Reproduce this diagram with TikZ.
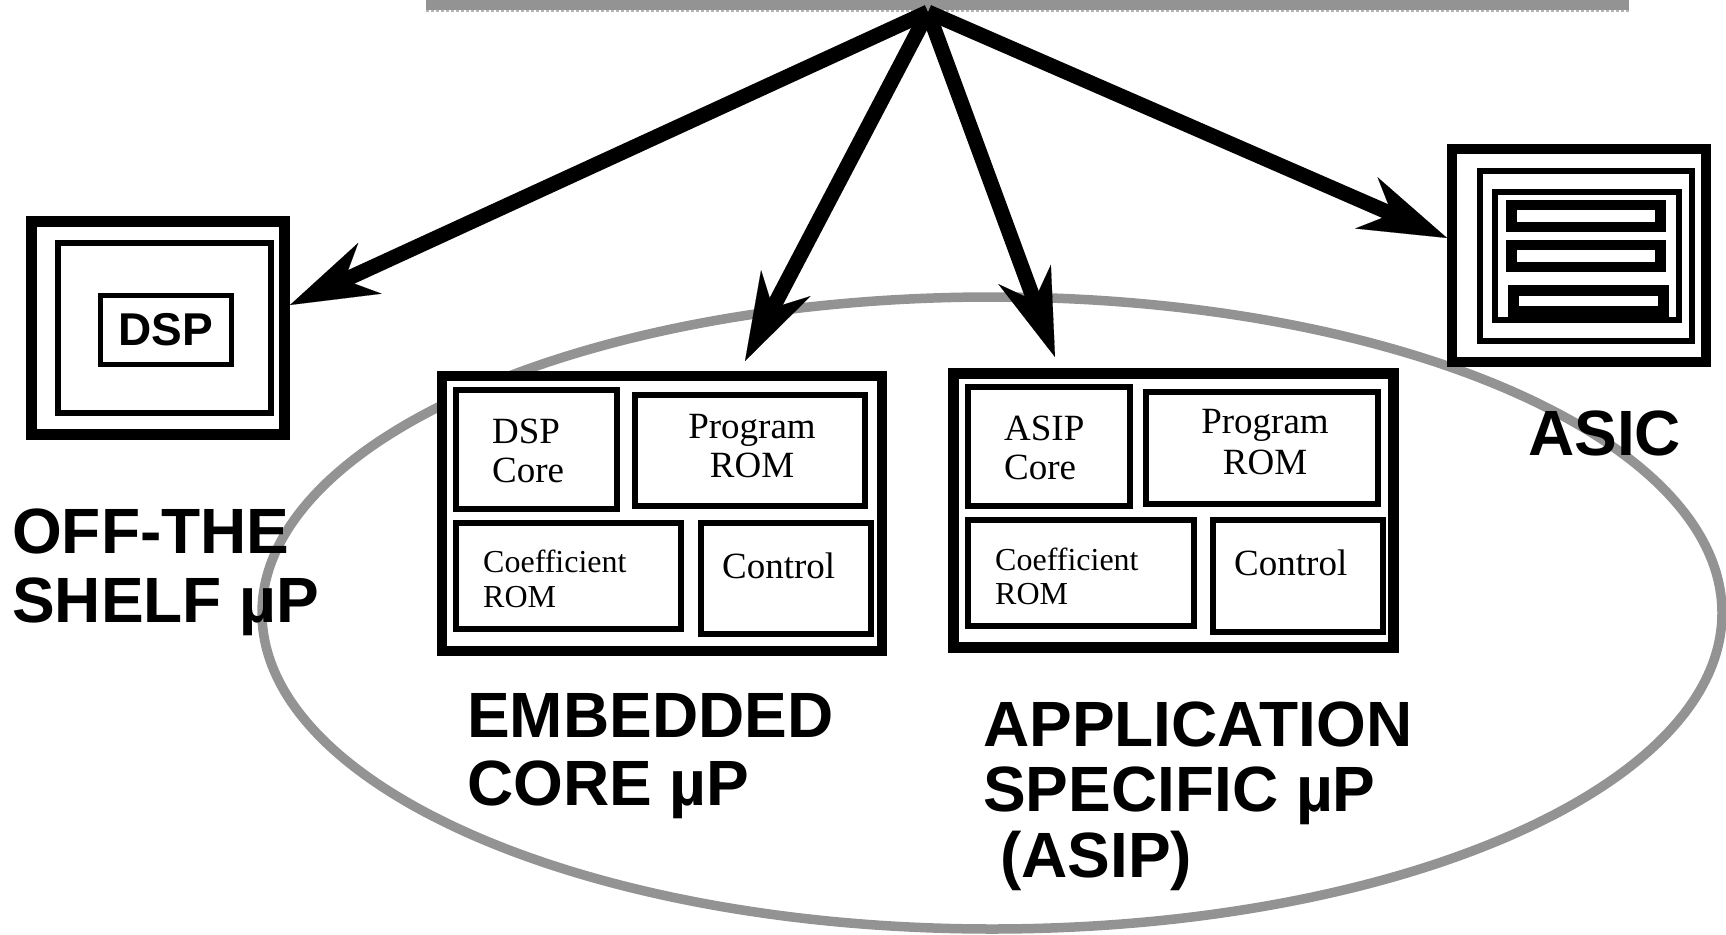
\documentclass[tikz,border=0pt]{standalone}
\usepackage{fontspec}
\setmainfont{Liberation Serif}[Ligatures=NoCommon]
\newfontfamily\labelsans{Liberation Sans}
\usetikzlibrary{arrows.meta}
\definecolor{ringgray}{RGB}{147,147,147}
\newcommand\bigfont{\labelsans\bfseries\fontsize{64}{69}\selectfont}
\newcommand\partfont{\fontsize{37}{39}\selectfont}
\newcommand\coeffont{\fontsize{32}{34}\selectfont}
\tikzset{
  frame/.style={draw, fill=white, inner sep=0pt, outer sep=0pt},
  heavy/.style={frame, line width=11pt},
  medium/.style={frame, line width=6pt},
  part/.style={frame, line width=5.5pt},
  bar/.style={frame, line width=10.5pt},
  biglabel/.style={anchor=base west, inner sep=0pt, font=\bigfont},
  parttext/.style={inner sep=0pt, font=\partfont},
  coeftext/.style={anchor=base west, inner sep=0pt, font=\coeffont},
  bigarrow/.style={line width=15pt,
    -{Stealth[length=88pt, width=56pt, inset=28pt, line width=0.1pt]}}
}
\begin{document}
\begin{tikzpicture}[x=1pt, y=-1pt]
\useasboundingbox (0,0) rectangle (1726,934);

% large grey ring around the core-based designs
\draw[ringgray, line width=9.5pt] (992,613) ellipse [x radius=730pt, y radius=316pt];

% grey bar at the top
\fill[ringgray] (426,0) rectangle (1629,10);
\draw[ringgray!70, line width=2pt, dash pattern=on 3pt off 2pt] (426,11) -- (1629,11);

% off-the-shelf processor
\node[heavy, minimum width=253pt, minimum height=213pt] (ots) at (158,328) {};
\node[medium, minimum width=213pt, minimum height=170pt] (otsin) at (164.5,328) {};
\node[frame, line width=5pt, minimum width=131pt, minimum height=69pt,
      font=\labelsans\bfseries\fontsize{46}{48}\selectfont] (dsp) at (166,330) {DSP};

% ASIC
\node[frame, line width=10pt, minimum width=254pt, minimum height=213pt] (asic) at (1579,255.5) {};
\node[frame, line width=6.5pt, minimum width=212pt, minimum height=170pt] (asic2) at (1586,256) {};
\node[medium, minimum width=184pt, minimum height=128pt] (asic3) at (1587,256) {};
\node[bar, minimum width=149pt, minimum height=22pt] (bar1) at (1586,216) {};
\node[bar, minimum width=149pt, minimum height=22pt] (bar2) at (1586,256) {};
\node[bar, line width=11pt, minimum width=150pt, minimum height=21.5pt] (bar3) at (1588,301) {};

% embedded core processor
\node[heavy, line width=10.5pt, minimum width=440pt, minimum height=275pt] (emb) at (662,513.5) {};
\node[part, minimum width=161pt, minimum height=119pt] (embcore) at (536.5,449.5) {};
\node[part, minimum width=230pt, minimum height=111pt] (embprog) at (750,450.5) {};
\node[part, minimum width=225pt, minimum height=106pt] (embcoef) at (568.5,576) {};
\node[part, minimum width=170pt, minimum height=111pt] (embctl) at (786,578.5) {};
\node[parttext, anchor=base west] (embcore1) at (492,443) {DSP};
\node[parttext, anchor=base west] (embcore2) at (492,482) {Core};
\node[parttext, anchor=base] (embprog1) at (752,438) {Program};
\node[parttext, anchor=base] (embprog2) at (752,477) {ROM};
\node[coeftext] (embcoef1) at (483,572) {Coefficient};
\node[coeftext] (embcoef2) at (483,607) {ROM};
\node[parttext, anchor=base west] (embctl1) at (722,578) {Control};

% application specific processor
\node[heavy, minimum width=440pt, minimum height=274pt] (asip) at (1173.5,510.5) {};
\node[part, minimum width=162pt, minimum height=119pt] (asipcore) at (1049,446.5) {};
\node[part, minimum width=232pt, minimum height=112pt] (asipprog) at (1262,448) {};
\node[part, minimum width=226pt, minimum height=106pt] (asipcoef) at (1081,573) {};
\node[part, minimum width=170pt, minimum height=112pt] (asipctl) at (1298,576) {};
\node[parttext, anchor=base west] (asipcore1) at (1004,440) {ASIP};
\node[parttext, anchor=base west] (asipcore2) at (1004,479) {Core};
\node[parttext, anchor=base] (asipprog1) at (1265,433) {Program};
\node[parttext, anchor=base] (asipprog2) at (1265,474) {ROM};
\node[coeftext] (asipcoef1) at (995,570) {Coefficient};
\node[coeftext] (asipcoef2) at (995,604) {ROM};
\node[parttext, anchor=base west] (asipctl1) at (1234,575) {Control};

% category labels
\node[biglabel] (lots1) at (12,553) {OFF-THE};
\node[biglabel] (lots2) at (12,622) {SHELF µP};
\node[biglabel] (lemb1) at (467,737) {EMBEDDED};
\node[biglabel] (lemb2) at (467,805) {CORE µP};
\node[biglabel] (lasip1) at (983,746) {APPLICATION};
\node[biglabel] (lasip2) at (983,811) {SPECIFIC µP};
\node[biglabel] (lasip3) at (1000,877) {(ASIP)};
\node[biglabel] (lasic) at (1528,455) {ASIC};

% arrows fanning out from the bar
\coordinate (apex) at (928,12);
\coordinate (tipots) at (290,305);
\coordinate (tipemb) at (745,361);
\coordinate (tipasip) at (1055,357);
\coordinate (tipasic) at (1447,238);
\draw[bigarrow] (apex) -- (tipots);
\draw[bigarrow] (apex) -- (tipemb);
\draw[bigarrow] (apex) -- (tipasip);
\draw[bigarrow] (apex) -- (tipasic);
\end{tikzpicture}
\end{document}
